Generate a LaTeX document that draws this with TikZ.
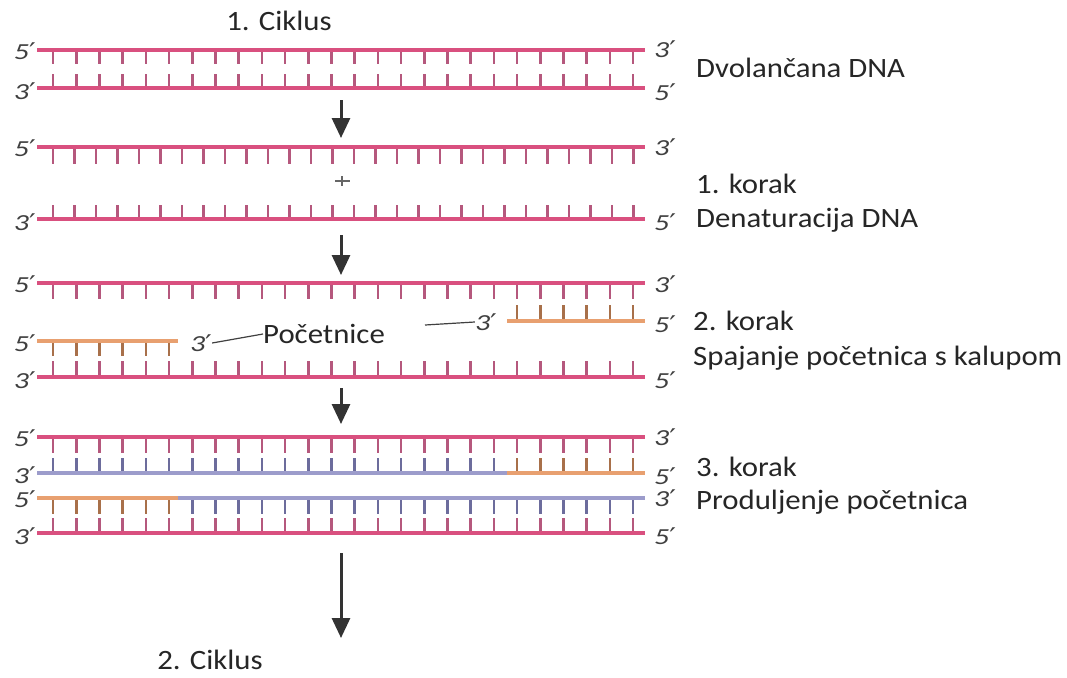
\documentclass[tikz,border=0pt]{standalone}
\usepackage{fontspec}
\setmainfont{Carlito}
\newfontfamily\primefont{DejaVu Sans}
\usetikzlibrary{arrows.meta}
\definecolor{dnapink}{HTML}{D9507F}
\definecolor{tickpink}{HTML}{B5587D}
\definecolor{primorange}{HTML}{E8A070}
\definecolor{tickorange}{HTML}{A8704A}
\definecolor{newpurple}{HTML}{9C9CCB}
\definecolor{tickpurple}{HTML}{6C6C9C}
\definecolor{endgray}{HTML}{404040}
\newcommand\myfive{\scalebox{1.3}[1]{{\itshape 5}{\primefont\char"2032}}}
\newcommand\mythree{\scalebox{1.3}[1]{{\itshape 3}{\primefont\char"2032}}}
\newcommand\wide[1]{\scalebox{1.1}[1]{#1}}
\begin{document}
\begin{tikzpicture}[x=1pt,y=-1pt,
  strand/.style={line width=4pt},
  tickln/.style={line width=2.6pt},
  endlbl/.style={text=endgray, font=\fontsize{23}{23}\selectfont, inner sep=0pt},
  endL/.style={endlbl, anchor=east},
  endR/.style={endlbl, anchor=west},
  lbl/.style={font=\fontsize{28}{32}\selectfont, anchor=west, inner sep=0pt, text=black!85},
  flow/.style={line width=3pt, draw=black!80, -{Triangle[width=18pt,length=20pt]}},
  leader/.style={line width=1.2pt, draw=black!75}]
\useasboundingbox (0,0) rectangle (1067,677);
\fill[white] (0,0) rectangle (1067,677);

% ---------- Row 1: double-stranded DNA
\foreach \k in {0,...,25}{
  \draw[tickln,tickpink] ({53+23.2*\k},50) -- ({53+23.2*\k},64);
  \draw[tickln,tickpink] ({53+23.2*\k},74) -- ({53+23.2*\k},88);
}
\draw[strand,dnapink] (37,50) -- (645,50);
\draw[strand,dnapink] (37,88) -- (645,88);
\node[endL] (r1a) at (36,51) {\myfive};
\node[endL] (r1b) at (36,91) {\mythree};
\node[endR] (r1c) at (654,49) {\mythree};
\node[endR] (r1d) at (654,92) {\myfive};

% ---------- Row 2: denaturation
\foreach \k in {0,...,27}{
  \draw[tickln,tickpink] ({53+21.5*\k},147) -- ({53+21.5*\k},164);
  \draw[tickln,tickpink] ({53+21.5*\k},205) -- ({53+21.5*\k},219);
}
\draw[strand,dnapink] (37,147) -- (645,147);
\draw[strand,dnapink] (37,219) -- (645,219);
\draw[line width=1.3pt, black!60] (335,181) -- (350,181);
\draw[line width=1.3pt, black!60] (342,176) -- (342,186);
\node[endL] (r2a) at (36,148) {\myfive};
\node[endL] (r2b) at (36,222) {\mythree};
\node[endR] (r2c) at (654,147) {\mythree};
\node[endR] (r2d) at (654,222) {\myfive};

% ---------- Row 3: primer annealing
\foreach \k in {0,...,25}{
  \draw[tickln,tickpink] ({53+23.2*\k},283) -- ({53+23.2*\k},299);
  \draw[tickln,tickpink] ({53+23.2*\k},361) -- ({53+23.2*\k},377);
}
\foreach \k in {20,...,25}{
  \draw[tickln,tickorange] ({53+23.2*\k},305) -- ({53+23.2*\k},321);
}
\foreach \k in {0,...,5}{
  \draw[tickln,tickorange] ({53+23.2*\k},341) -- ({53+23.2*\k},356);
}
\draw[strand,dnapink] (37,283) -- (645,283);
\draw[strand,primorange] (507,321) -- (645,321);
\draw[strand,primorange] (37,341) -- (178,341);
\draw[strand,dnapink] (37,377) -- (645,377);
\node[endL] (r3a) at (36,284) {\myfive};
\node[endL] (r3b) at (36,343) {\myfive};
\node[endL] (r3c) at (36,380) {\mythree};
\node[endR] (r3d) at (654,284) {\mythree};
\node[endR] (r3e) at (654,324) {\myfive};
\node[endR] (r3f) at (654,380) {\myfive};
\node[endlbl] (p3l) at (201,343) {\mythree};
\node[endlbl] (p3r) at (486,322) {\mythree};
\node[lbl] (plab) at (263,334) {\wide{Početnice}};
\coordinate (lfree) at (425,325);
\draw[leader] (p3l.east) -- (plab.west);
\draw[leader] (lfree) -- (p3r.west);

% ---------- Row 4: extension
\foreach \k in {0,...,25}{
  \draw[tickln,tickpink] ({53+23.2*\k},437) -- ({53+23.2*\k},453);
  \draw[tickln,tickpink] ({53+23.2*\k},518) -- ({53+23.2*\k},533);
}
\foreach \k in {0,...,19}{
  \draw[tickln,tickpurple] ({53+23.2*\k},458) -- ({53+23.2*\k},473);
}
\foreach \k in {20,...,25}{
  \draw[tickln,tickorange] ({53+23.2*\k},458) -- ({53+23.2*\k},473);
}
\foreach \k in {0,...,5}{
  \draw[tickln,tickorange] ({53+23.2*\k},498) -- ({53+23.2*\k},514);
}
\foreach \k in {6,...,25}{
  \draw[tickln,tickpurple] ({53+23.2*\k},498) -- ({53+23.2*\k},514);
}
\draw[strand,dnapink] (37,437) -- (645,437);
\draw[strand,newpurple] (37,473) -- (507,473);
\draw[strand,primorange] (507,473) -- (645,473);
\draw[strand,primorange] (37,498) -- (178,498);
\draw[strand,newpurple] (178,498) -- (645,498);
\draw[strand,dnapink] (37,533) -- (645,533);
\node[endL] (r4a) at (36,438) {\myfive};
\node[endL] (r4b) at (36,475) {\mythree};
\node[endL] (r4c) at (36,499) {\myfive};
\node[endL] (r4d) at (36,536) {\mythree};
\node[endR] (r4e) at (654,437) {\mythree};
\node[endR] (r4f) at (654,476) {\myfive};
\node[endR] (r4g) at (654,498) {\mythree};
\node[endR] (r4h) at (654,536) {\myfive};

% ---------- arrows
\coordinate (a1s) at (341,100); \coordinate (a1e) at (341,138);
\coordinate (a2s) at (341,235); \coordinate (a2e) at (341,275);
\coordinate (a3s) at (341,388); \coordinate (a3e) at (341,424);
\coordinate (a4s) at (341,553); \coordinate (a4e) at (341,638);
\draw[flow] (a1s) -- (a1e);
\draw[flow] (a2s) -- (a2e);
\draw[flow] (a3s) -- (a3e);
\draw[flow] (a4s) -- (a4e);

% ---------- labels
\node[lbl, anchor=center] (c1) at (279,21) {\wide{1. Ciklus}};
\node[lbl, anchor=center] (c2) at (210,660) {\wide{2. Ciklus}};
\node[lbl] (l1) at (696,68) {\wide{Dvolančana DNA}};
\node[lbl] (l2) at (696,184) {\wide{1. korak}};
\node[lbl] (l3) at (696,220) {\wide{Denaturacija DNA}};
\node[lbl] (l4) at (693,321) {\wide{2. korak}};
\node[lbl] (l5) at (693,358) {\wide{Spajanje početnica s kalupom}};
\node[lbl] (l6) at (696,467) {\wide{3. korak}};
\node[lbl] (l7) at (696,502) {\wide{Produljenje početnica}};
\end{tikzpicture}
\end{document}
